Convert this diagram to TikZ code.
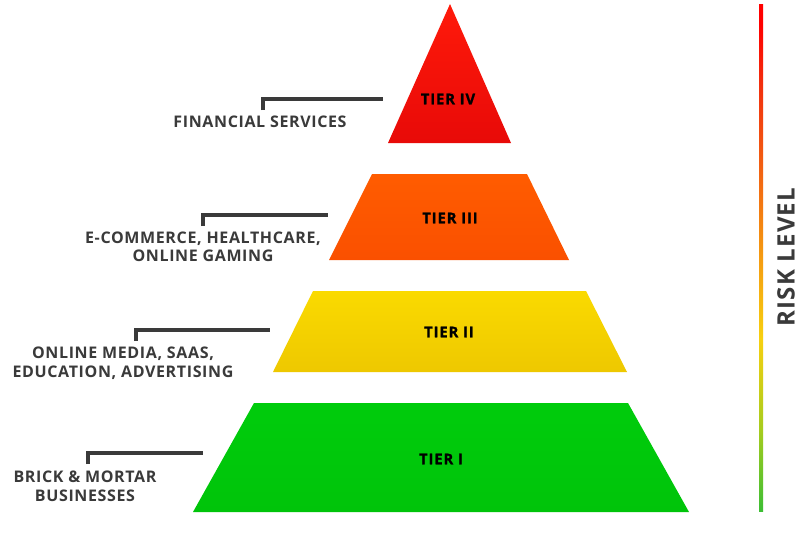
\documentclass[tikz,border=0pt]{standalone}
\usepackage{fontspec}
\setmainfont{Open Sans}
\newfontfamily\lblfont[LetterSpace=4]{Open Sans Bold}
\newfontfamily\tierfont[LetterSpace=6,FakeBold=1.2]{Open Sans Bold}
\newfontfamily\riskfont[LetterSpace=5]{Open Sans Bold}
\definecolor{txtgrey}{HTML}{3A3A3A}
\definecolor{tfourT}{HTML}{FF1A0A}
\definecolor{tfourB}{HTML}{E80A08}
\definecolor{tthreeT}{HTML}{FF5C00}
\definecolor{tthreeB}{HTML}{FA5000}
\definecolor{ttwoT}{HTML}{FADA00}
\definecolor{ttwoB}{HTML}{EEC800}
\definecolor{toneT}{HTML}{00CC0C}
\definecolor{toneB}{HTML}{00C40A}
\definecolor{rgreen}{HTML}{3CBE34}
\definecolor{rlime}{HTML}{A6CC1E}
\definecolor{ryellow}{HTML}{F7D010}
\definecolor{rorange}{HTML}{F26012}
\definecolor{rredor}{HTML}{F2300E}
\definecolor{rred}{HTML}{FF0000}
\pgfdeclareverticalshading{riskshade}{100bp}{color(0bp)=(rgreen); color(25bp)=(rgreen); color(33bp)=(rlime); color(42bp)=(ryellow); color(59bp)=(rorange); color(67bp)=(rredor); color(73bp)=(rred); color(75bp)=(rred); color(100bp)=(rred)}
\begin{document}
\begin{tikzpicture}[x=1pt,y=-1pt,
  leader/.style={draw=txtgrey,line width=4pt},
  sidelabel/.style={text=txtgrey,font=\lblfont\fontsize{16}{18.5}\selectfont,align=center,inner sep=0pt},
  tierlabel/.style={text=black,font=\tierfont\fontsize{14.8}{17}\selectfont,inner sep=0pt},
  tierIV/.style={top color=tfourT,bottom color=tfourB,draw=none},
  tierIII/.style={top color=tthreeT,bottom color=tthreeB,draw=none},
  tierII/.style={top color=ttwoT,bottom color=ttwoB,draw=none},
  tierI/.style={top color=toneT,bottom color=toneB,draw=none}]
\useasboundingbox (0,0) rectangle (800,536);
\fill[white] (0,0) rectangle (800,536);
% pyramid tiers
\path[tierIV] (450,4) -- (511,143) -- (388,143) -- cycle;
\path[tierIII] (372,174) -- (527,174) -- (569,260) -- (329,260) -- cycle;
\path[tierII] (313,291) -- (586,291) -- (627,372) -- (273,372) -- cycle;
\path[tierI] (254,403) -- (628,403) -- (689,512) -- (193,512) -- cycle;
\node[tierlabel] (t4) at (448,99) {TIER IV};
\node[tierlabel] (t3) at (450,218) {TIER III};
\node[tierlabel] (t2) at (449,332) {TIER II};
\node[tierlabel] (t1) at (441,459) {TIER I};
% side labels
\node[sidelabel] (l4) at (260,122) {FINANCIAL SERVICES};
\node[sidelabel] (l3) at (203,247) {E-COMMERCE, HEALTHCARE,\\ONLINE GAMING};
\node[sidelabel] (l2) at (123,363) {ONLINE MEDIA, SAAS,\\EDUCATION, ADVERTISING};
\node[sidelabel] (l1) at (85,486.5) {BRICK \& MORTAR\\BUSINESSES};
% leader lines
\coordinate (a4) at (263,110); \coordinate (b4) at (383,99);
\coordinate (a3) at (203,226); \coordinate (b3) at (328,215);
\coordinate (a2) at (136,341); \coordinate (b2) at (270,330);
\coordinate (a1) at (88,464); \coordinate (b1) at (203,453);
\draw[leader] (a4) |- (b4);
\draw[leader] (a3) |- (b3);
\draw[leader] (a2) |- (b2);
\draw[leader] (a1) |- (b1);
% risk bar
\path[shading=riskshade] (759,4) rectangle (763,511);
\node[text=txtgrey,font=\riskfont\fontsize{24}{28}\selectfont,rotate=90,inner sep=0pt] (risk) at (786,257) {RISK LEVEL};
\end{tikzpicture}
\end{document}
